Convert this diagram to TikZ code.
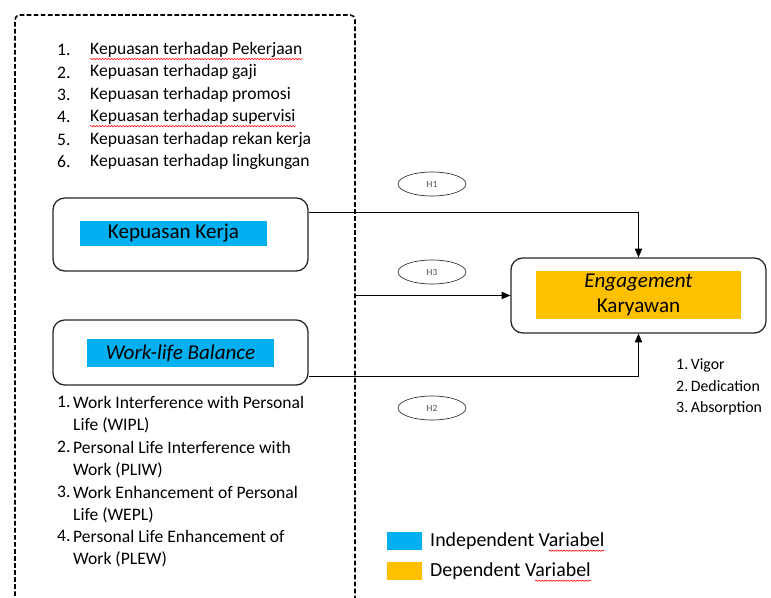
\documentclass[tikz,border=0pt]{standalone}
\usepackage{fontspec}
\setmainfont{Carlito}
\usepackage{tikz}
\usetikzlibrary{arrows.meta, calc, shapes.geometric, decorations.pathmorphing}
\definecolor{indep}{HTML}{00B0F0}
\definecolor{dep}{HTML}{FFC000}

\begin{document}
\begin{tikzpicture}[
  x=0.03cm, y=-0.03cm,
  >={Triangle[length=2.6mm, width=2.2mm]},
  varbox/.style={draw=black!85, line width=1.1pt, rounded corners=10pt, fill=white},
  tag/.style={draw=black!80, ellipse, line width=0.6pt, minimum width=68*0.03cm, minimum height=24*0.03cm, inner sep=0pt, text=black!70, font=\fontsize{8}{9}\selectfont},
  item/.style={anchor=west, inner sep=0pt, font=\fontsize{15}{17}\selectfont},
  label/.style={inner sep=0pt, font=\fontsize{18}{21}\selectfont},
  link/.style={->, line width=0.7pt},
  typo/.style={red, line width=0.5pt, decorate, decoration={snake, amplitude=0.5pt, segment length=2.5pt}},
  ]
  \useasboundingbox (0,0) rectangle (771,598);

  % dashed frame round the independent variables
  \draw[line width=1.3pt, dash pattern=on 4pt off 2pt, rounded corners=4pt]
    (15,610) -- (15,15) -- (355,15) -- (355,610);

  % indicators of Kepuasan Kerja
  \foreach \n/\txt [count=\i from 0] in {1/Kepuasan terhadap Pekerjaan, 2/Kepuasan terhadap gaji,
      3/Kepuasan terhadap promosi, 4/Kepuasan terhadap supervisi, 5/Kepuasan terhadap rekan kerja,
      6/Kepuasan terhadap lingkungan} {
    \node[item] (kn\n) at (57, 50+22.4*\i) {\n.};
    \node[item] (kt\n) at (90, 50+22.4*\i) {\txt};
  }
  \draw[typo] ([yshift=-1pt]kt1.south west) -- ([yshift=-1pt]kt1.south east);
  \draw[typo] ([yshift=-1pt]kt4.south west) -- ([yshift=-1pt]kt4.south east);

  % variable boxes
  \node[varbox, minimum width=255*0.03cm, minimum height=73*0.03cm] (kk) at (180.5,234.5) {};
  \node[label, fill=indep, minimum width=187*0.03cm, minimum height=25*0.03cm] (kkl) at (173.5,233.5) {Kepuasan Kerja};

  \node[varbox, minimum width=255*0.03cm, minimum height=65*0.03cm] (wlb) at (180.5,352.5) {};
  \node[label, fill=indep, minimum width=187*0.03cm, minimum height=28*0.03cm, font=\fontsize{18}{21}\selectfont\itshape] (wlbl) at (180.5,353) {Work-life Balance};

  \node[varbox, minimum width=255*0.03cm, minimum height=75*0.03cm] (eng) at (638.5,295.5) {};
  \node[label, fill=dep, minimum width=205*0.03cm, minimum height=48*0.03cm, align=center] (engl) at (638.5,295) {\textit{Engagement}\\Karyawan};

  % indicators of Work-life Balance
  \node[item] (wn1) at (57,402) {1.};
  \node[item] (wt1) at (73,402) {Work Interference with Personal};
  \node[item] (wt1b) at (73,425) {Life (WIPL)};
  \node[item] (wn2) at (57,447) {2.};
  \node[item] (wt2) at (73,447) {Personal Life Interference with};
  \node[item] (wt2b) at (73,470) {Work (PLIW)};
  \node[item] (wn3) at (57,492) {3.};
  \node[item] (wt3) at (73,492) {Work Enhancement of Personal};
  \node[item] (wt3b) at (73,515) {Life (WEPL)};
  \node[item] (wn4) at (57,536) {4.};
  \node[item] (wt4) at (73,536) {Personal Life Enhancement of};
  \node[item] (wt4b) at (73,559) {Work (PLEW)};

  % indicators of Engagement
  \node[item, font=\fontsize{13.5}{15}\selectfont] (en1) at (676,365) {1.\,Vigor};
  \node[item, font=\fontsize{13.5}{15}\selectfont] (en2) at (676,386) {2.\,Dedication};
  \node[item, font=\fontsize{13.5}{15}\selectfont] (en3) at (676,408) {3.\,Absorption};

  % hypotheses
  \node[tag] (h1) at (432,184) {H1};
  \node[tag] (h3) at (432,272) {H3};
  \node[tag] (h2) at (432,408) {H2};

  % paths
  \coordinate (h3start) at (355,295.5);
  \draw[link] ($(kk.north east)!0.2!(kk.south east)$) -| (eng.north);
  \draw[link] (h3start) -- (eng.west);
  \draw[link] ($(wlb.north east)!0.86!(wlb.south east)$) -| (eng.south);

  % legend
  \node[fill=indep, minimum width=35*0.03cm, minimum height=18*0.03cm, inner sep=0pt] (lgi) at (404.5,541) {};
  \node[item, font=\fontsize{17}{19}\selectfont] (lgit) at (430,541) {Independent Variabel};
  \node[fill=dep, minimum width=35*0.03cm, minimum height=18*0.03cm, inner sep=0pt] (lgd) at (404.5,571) {};
  \node[item, font=\fontsize{17}{19}\selectfont] (lgdt) at (430,571) {Dependent Variabel};
  \draw[typo] ($(lgit.south east)+(-56,1)$) -- ($(lgit.south east)+(0,1)$);
  \draw[typo] ($(lgdt.south east)+(-56,1)$) -- ($(lgdt.south east)+(0,1)$);
\end{tikzpicture}
\end{document}
